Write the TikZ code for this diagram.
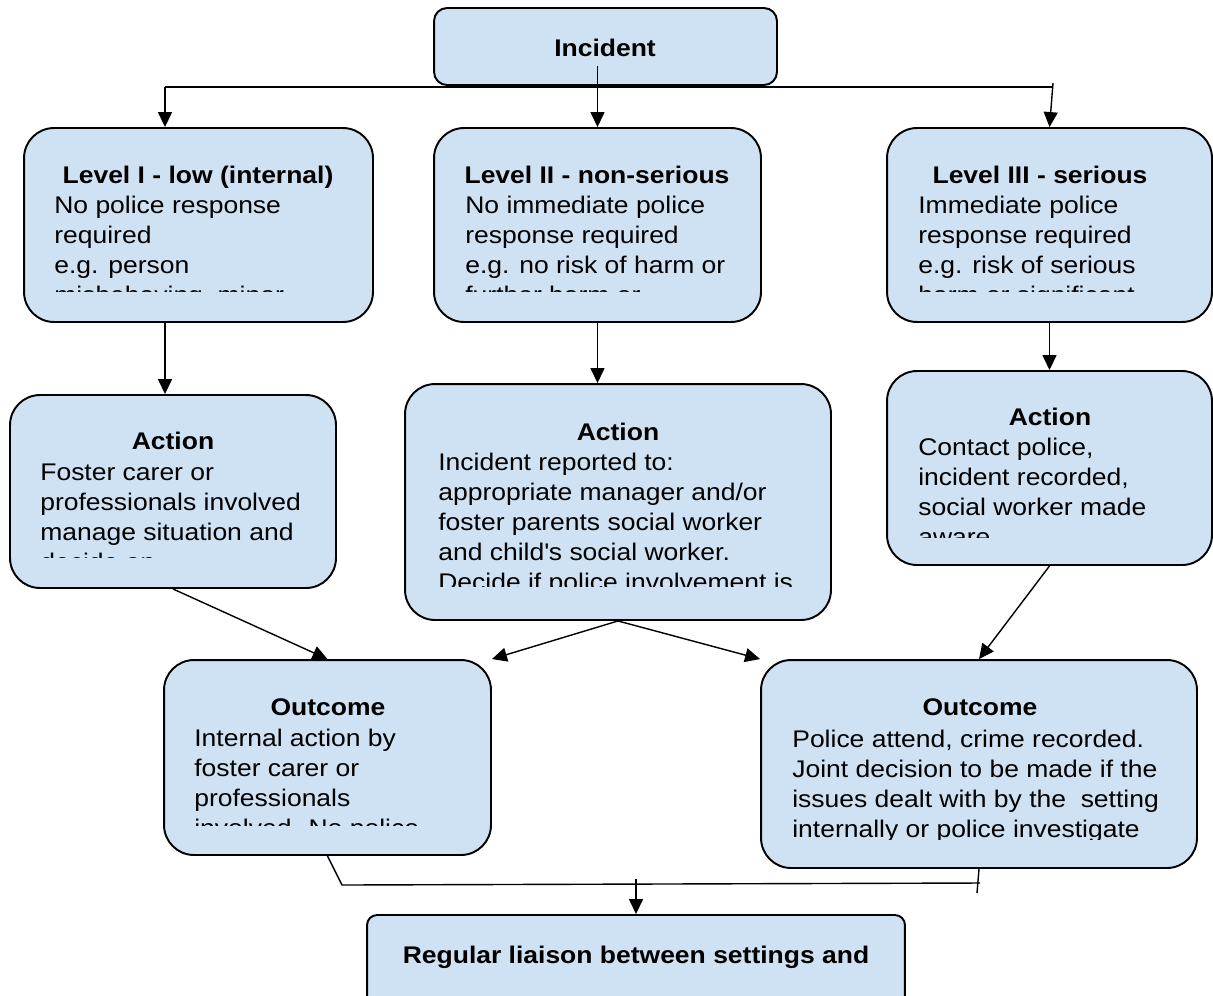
\documentclass[tikz,border=0pt]{standalone}
\usepackage{fontspec}
\setmainfont{Liberation Sans}[FakeStretch=1.1]
\usetikzlibrary{arrows.meta}
\definecolor{boxblue}{RGB}{207,226,243}
\tikzset{
  box/.style={draw, line width=1.1pt, fill=boxblue, inner sep=0pt, rounded corners=#1},
  box/.default=0.6cm,
  ttl/.style={font=\fontsize{13.7}{17}\selectfont\bfseries, anchor=base, inner sep=0pt},
  txt/.style={font=\fontsize{13.7}{17}\selectfont, anchor=base west, align=left, inner sep=0pt},
  arr/.style={line width=0.8pt, -{Triangle[length=0.3cm,width=0.28cm]}},
  lnk/.style={line width=0.8pt}
}

\begin{document}
\begin{tikzpicture}[x=0.02cm, y=-0.02cm]
  \useasboundingbox (0,0) rectangle (1213,995);

  % boxes
  \node[box=0.26cm, minimum width=6.86cm, minimum height=1.54cm] (inc) at (605.5,46.5) {};
  \node[box, minimum width=6.98cm, minimum height=3.88cm] (lvlA) at (198.5,225) {};
  \node[box, minimum width=6.54cm, minimum height=3.88cm] (lvlB) at (597.5,225) {};
  \node[box, minimum width=6.5cm, minimum height=3.88cm] (lvlC) at (1049.5,225) {};
  \node[box, minimum width=6.52cm, minimum height=3.86cm] (actA) at (173,491.5) {};
  \node[box, minimum width=8.52cm, minimum height=4.72cm] (actB) at (618,502) {};
  \node[box, minimum width=6.5cm, minimum height=3.88cm] (actC) at (1049.5,468) {};
  \node[box, minimum width=6.54cm, minimum height=3.9cm] (outA) at (327.5,757.5) {};
  \node[box, minimum width=8.72cm, minimum height=4.16cm] (outB) at (979,764) {};
  \node[box=0.2cm, minimum width=10.76cm, minimum height=1.9cm] (reg) at (636,962.5) {};

  % titles
  \node[ttl] (inc-t) at (605,56) {Incident};
  \node[ttl] (lvlA-t) at (198,183) {Level I - low (internal)};
  \node[ttl] (lvlB-t) at (597,183) {Level II - non-serious};
  \node[ttl] (lvlC-t) at (1040,183) {Level III - serious};
  \node[ttl] (actA-t) at (173,449) {Action};
  \node[ttl] (actB-t) at (618,440) {Action};
  \node[ttl] (actC-t) at (1050,425) {Action};
  \node[ttl] (outA-t) at (328,715) {Outcome};
  \node[ttl] (outB-t) at (980,715) {Outcome};
  \node[ttl] (reg-t) at (636,963) {Regular liaison between settings and};

  % body texts, cut off at the box bottom (placed by last baseline)
  \begin{scope}
    \clip (lvlA.north west) rectangle (lvlA.east |- 0,291);
    \node[txt] (lvlA-b) at (54,303) {No police response\\required\\e.g. person\\misbehaving, minor};
  \end{scope}
  \begin{scope}
    \clip (lvlB.north west) rectangle (lvlB.east |- 0,291);
    \node[txt] (lvlB-b) at (465,303) {No immediate police\\response required\\e.g. no risk of harm or\\further harm or};
  \end{scope}
  \begin{scope}
    \clip (lvlC.north west) rectangle (lvlC.east |- 0,291);
    \node[txt] (lvlC-b) at (918,303) {Immediate police\\response required\\e.g. risk of serious\\harm or significant};
  \end{scope}
  \begin{scope}
    \clip (actA.north west) rectangle (actA.east |- 0,557);
    \node[txt] (actA-b) at (40,570) {Foster carer or\\professionals involved\\manage situation and\\decide on};
  \end{scope}
  \begin{scope}
    \clip (actB.north west) rectangle (actB.east |- 0,586);
    \node[txt] (actB-b) at (438,590) {Incident reported to:\\appropriate manager and/or\\foster parents social worker\\and child\textquotesingle s social worker.\\Decide if police involvement is};
  \end{scope}
  \begin{scope}
    \clip (actC.north west) rectangle (actC.east |- 0,537);
    \node[txt] (actC-b) at (918,545) {Contact police,\\incident recorded,\\social worker made\\aware};
  \end{scope}
  \begin{scope}
    \clip (outA.north west) rectangle (outA.east |- 0,825);
    \node[txt] (outA-b) at (194,836) {Internal action by\\foster carer or\\professionals\\involved. No police};
  \end{scope}
  \begin{scope}
    \clip (outB.north west) rectangle (outB.east |- 0,839);
    \node[txt] (outB-b) at (792,837) {Police attend, crime recorded.\\Joint decision to be made if the\\issues dealt with by the\ \ setting\\internally or police investigate};
  \end{scope}

  % connectors
  \coordinate (busL) at (165,87);
  \coordinate (busR) at (1053,87);
  \draw[lnk] (busL) -- (busR);
  \draw[arr] (busL) -- (busL |- lvlA.north);
  \draw[arr] ([yshift=0.4cm]inc.south -| lvlB.north) -- (lvlB.north);
  \draw[arr] ([yshift=0.08cm]busR) -- (lvlC.north);

  \draw[arr] (lvlA.south -| busL) -- (actA.north -| busL);
  \draw[arr] (lvlB.south) -- (lvlB.south |- actB.north);
  \draw[arr] (lvlC.south) -- (actC.north);

  \draw[arr] (actA.south) -- (outA.north);
  \draw[arr] (actB.south) -- (outA.north east);
  \draw[arr] (actB.south) -- (outB.north west);
  \draw[arr] (actC.south) -- (outB.north);

  \coordinate (busA) at (342,885);
  \coordinate (busB) at (980,883);
  \coordinate (tailB) at (977,893);
  \draw[lnk] (outA.south) -- (busA) -- (busB);
  \draw[lnk] (outB.south) -- (tailB);
  \draw[arr] ([yshift=0.7cm]reg.north) -- (reg.north);
\end{tikzpicture}
\end{document}
